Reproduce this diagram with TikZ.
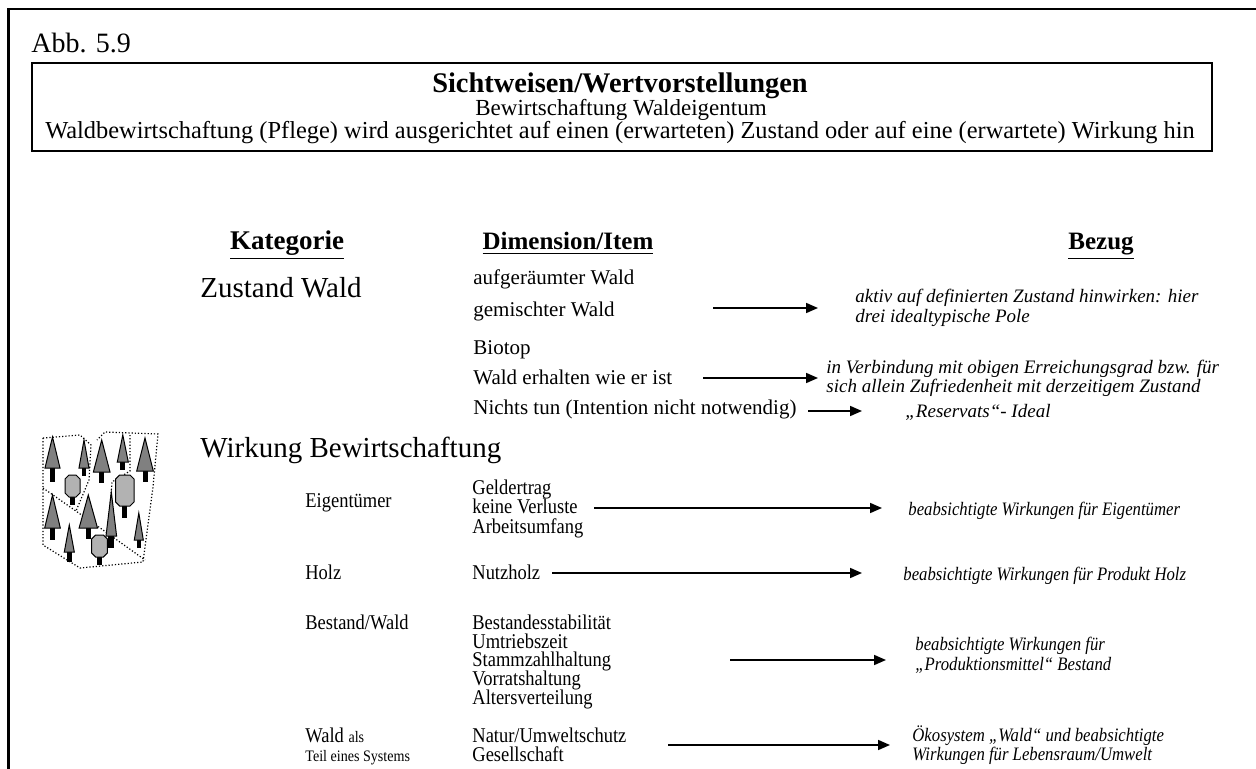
\documentclass[tikz,border=0pt]{standalone}
\usepackage{fontspec}
\setmainfont{Liberation Serif}
\newfontfamily\schmal[FakeStretch=0.88]{Liberation Serif}
\usetikzlibrary{arrows.meta}

\tikzset{
  txt/.style={anchor=base west,inner sep=0pt,font=\fontsize{10.5}{12}\selectfont},
  eng/.style={anchor=base west,inner sep=0pt,font=\schmal\fontsize{10.5}{12}\selectfont},
  kat/.style={anchor=base west,inner sep=0pt,font=\fontsize{14.5}{16}\selectfont},
  kopf/.style={anchor=base,inner sep=0pt,font=\bfseries\fontsize{12.5}{14}\selectfont},
  bez/.style={anchor=base west,inner sep=0pt,font=\itshape\fontsize{9.5}{11}\selectfont},
  bezeng/.style={anchor=base west,inner sep=0pt,font=\schmal\itshape\fontsize{9.5}{11}\selectfont},
  pfeil/.style={line width=0.85pt,-{Triangle[length=6pt,width=5pt]}},
  nadel/.style={draw=black,line width=0.5pt,fill=black!50},
  laub/.style={draw=black,line width=0.5pt,fill=black!30},
  grenze/.style={densely dotted,line width=0.6pt}
}

\begin{document}
\begin{tikzpicture}[x=0.5pt,y=-0.5pt]
\useasboundingbox (0,0) rectangle (1256,769);

% Rahmen
\draw[line width=1.25pt] (1256,9) -- (8.5,9) -- (8.5,769);
\node[anchor=base west,inner sep=0pt,font=\fontsize{14}{16}\selectfont] (abb) at (31,53) {Abb. 5.9};

% Kopfkasten
\draw[line width=0.75pt] (32,63) rectangle (1212,151);
\node[anchor=base,inner sep=0pt,font=\bfseries\fontsize{14.2}{16}\selectfont] (titel) at (620,93) {Sichtweisen/Wertvorstellungen};
\node[anchor=base,inner sep=0pt,font=\fontsize{11.5}{13}\selectfont] (untertitel) at (621,116) {Bewirtschaftung Waldeigentum};
\node[anchor=base,inner sep=0pt,font=\fontsize{12.2}{14}\selectfont] (erlaeut) at (620,139) {Waldbewirtschaftung (Pflege) wird ausgerichtet auf einen (erwarteten) Zustand oder auf eine (erwartete) Wirkung hin};

% Spaltenkoepfe
\node[kopf,font=\bfseries\fontsize{13.5}{15}\selectfont] (kategorie) at (287,250) {\underline{Kategorie}};
\node[kopf] (dimension) at (568,250) {\underline{Dimension/Item}};
\node[kopf] (bezug)     at (1101,250) {\underline{Bezug}};

% Zustand Wald
\node[kat] (zustand) at (200,298) {Zustand Wald};
\node[txt] (aufger)  at (473,285) {aufgeräumter Wald};
\node[txt] (gemischt) at (473,317) {gemischter Wald};
\node[txt] (biotop)  at (473,355) {Biotop};
\node[txt] (erhalten) at (473,385) {Wald erhalten wie er ist};
\node[txt] (nichts)  at (473,415) {Nichts tun (Intention nicht notwendig)};

\node[bez] (aktiv1) at (855,303) {aktiv auf definierten Zustand hinwirken: hier};
\node[bez] (aktiv2) at (855,323) {drei idealtypische Pole};
\node[bez] (verb1) at (826,374) {in Verbindung mit obigen Erreichungsgrad bzw. für};
\node[bez] (verb2) at (826,393) {sich allein Zufriedenheit mit derzeitigem Zustand};
\node[bez] (reservat) at (905,417) {„Reservats“- Ideal};

\coordinate (p1a) at (713,308); \coordinate (p1b) at (818,308);
\coordinate (p2a) at (703,378); \coordinate (p2b) at (818,378);
\coordinate (p3a) at (808,411); \coordinate (p3b) at (862,411);
\draw[pfeil] (p1a) -- (p1b);
\draw[pfeil] (p2a) -- (p2b);
\draw[pfeil] (p3a) -- (p3b);

% Wirkung Bewirtschaftung
\node[kat] (wirkung) at (200,457) {Wirkung Bewirtschaftung};

\node[eng] (eigent) at (305,507) {Eigentümer};
\node[eng] (geld)   at (472,494) {Geldertrag};
\node[eng] (verlust) at (472,513) {keine Verluste};
\node[eng] (arbeit) at (472,533) {Arbeitsumfang};
\node[bezeng] (weig) at (908,515) {beabsichtigte Wirkungen für Eigentümer};

\node[eng] (holz)    at (305,579) {Holz};
\node[eng] (nutzholz) at (472,579) {Nutzholz};
\node[bezeng] (wholz) at (903,580) {beabsichtigte Wirkungen für Produkt Holz};

\node[eng] (bestand) at (305,629) {Bestand/Wald};
\node[eng] (stabil)  at (472,629) {Bestandesstabilität};
\node[eng] (umtrieb) at (472,648) {Umtriebszeit};
\node[eng] (stamm)   at (472,666) {Stammzahlhaltung};
\node[eng] (vorrat)  at (472,685) {Vorratshaltung};
\node[eng] (alter)   at (472,704) {Altersverteilung};
\node[bezeng] (wbest1) at (915,650) {beabsichtigte Wirkungen für};
\node[bezeng] (wbest2) at (915,670) {„Produktionsmittel“ Bestand};

\node[eng] (waldals) at (305,742) {Wald {\fontsize{8}{9}\selectfont als}};
\node[eng,font=\schmal\fontsize{8}{9}\selectfont] (system) at (305,761) {Teil eines Systems};
\node[eng] (natur)   at (472,742) {Natur/Umweltschutz};
\node[eng] (gesell)  at (472,761) {Gesellschaft};
\node[bezeng] (oeko1) at (912,741) {Ökosystem „Wald“ und beabsichtigte};
\node[bezeng] (oeko2) at (912,760) {Wirkungen für Lebensraum/Umwelt};

\coordinate (p4a) at (594,508); \coordinate (p4b) at (882,508);
\coordinate (p5a) at (552,573); \coordinate (p5b) at (862,573);
\coordinate (p6a) at (730,660); \coordinate (p6b) at (886,660);
\coordinate (p7a) at (668,745); \coordinate (p7b) at (890,745);
\draw[pfeil] (p4a) -- (p4b);
\draw[pfeil] (p5a) -- (p5b);
\draw[pfeil] (p6a) -- (p6b);
\draw[pfeil] (p7a) -- (p7b);

% Waldstueck
\draw[grenze] (43,438) -- (80,435) -- (91,445) -- (89,480) -- (76,511);
\draw[grenze] (43,438) -- (43,545) -- (80,568) -- (143,562) -- (153,487) -- (158,434) -- (105,432) -- (97,440);
\draw[grenze] (130,435) -- (130,471) -- (112,482) -- (108,530);
\draw[grenze] (43,488) -- (103,530) -- (145,560);

\foreach \x/\y/\b/\h/\t/\s in {52.5/437/7.5/468/482/2.5, 84/440/5/468/476/2.2,
    101.7/440/8.3/472/483/2.5, 122.8/435/5.5/462/470/2.5, 145/438/8.3/471/482/2.5,
    52.5/495/7.8/528/540/2.5, 69.3/525/5/552/562/2.3, 88.3/495/9.2/528/539/2.5,
    111.3/492/5.3/536/548/3, 138.8/513/4.5/540/548/2.2}
{
  \fill (\x-\s,\h) rectangle (\x+\s,\t);
  \draw[nadel] (\x,\y) -- (\x-\b,\h) -- (\x+\b,\h) -- cycle;
}

\foreach \xa/\ya/\xb/\yb/\t in {65/475/80/497/505, 115.7/475/134/506/518, 91.7/535/107.3/557/565}
{
  \fill ({(\xa+\xb)/2-2.5},\yb) rectangle ({(\xa+\xb)/2+2.5},\t);
  \draw[laub] (\xa,\ya+4) -- (\xa+4,\ya) -- (\xb-4,\ya) -- (\xb,\ya+4)
    -- (\xb,\yb-4) -- (\xb-4,\yb) -- (\xa+4,\yb) -- (\xa,\yb-4) -- cycle;
}

\end{tikzpicture}
\end{document}
